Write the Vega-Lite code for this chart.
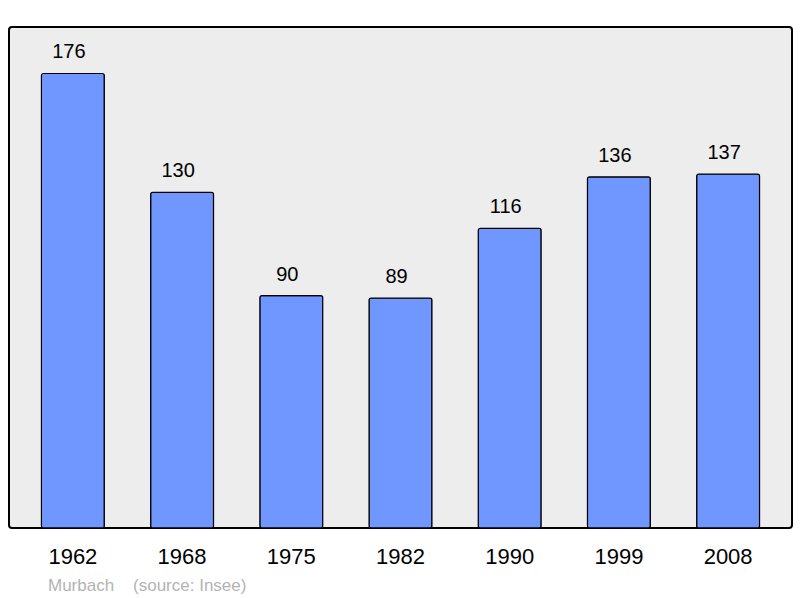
{
  "$schema": "https://vega.github.io/schema/vega-lite/v6.json",
  "width": 783,
  "height": 501,
  "autosize": "none",
  "padding": {"left": 9, "top": 27, "right": 8, "bottom": 70},
  "background": "white",
  "config": {
    "font": "Liberation Sans",
    "view": {"stroke": "#000000", "strokeWidth": 2, "fill": "#ededed", "cornerRadius": 3}
  },
  "title": {
    "text": "Murbach\u00a0\u00a0\u00a0\u00a0(source: Insee)",
    "orient": "bottom",
    "anchor": "start",
    "frame": "group",
    "dx": 39,
    "offset": 11,
    "fontSize": 17,
    "fontWeight": "normal",
    "color": "#b3b3b3",
    "font": "Liberation Sans"
  },
  "data": {
    "values": [
      {"year": "1962", "pop": 176},
      {"year": "1968", "pop": 130},
      {"year": "1975", "pop": 90},
      {"year": "1982", "pop": 89},
      {"year": "1990", "pop": 116},
      {"year": "1999", "pop": 136},
      {"year": "2008", "pop": 137}
    ]
  },
  "encoding": {
    "x": {
      "field": "year",
      "type": "ordinal",
      "sort": null,
      "scale": {"paddingInner": 0.424, "paddingOuter": 0.297},
      "axis": {
        "title": null,
        "ticks": false,
        "domain": false,
        "labelAngle": 0,
        "labelFontSize": 22,
        "labelColor": "#000000",
        "labelPadding": 18,
        "labelFont": "Liberation Sans"
      }
    },
    "y": {
      "field": "pop",
      "type": "quantitative",
      "scale": {"domain": [0, 194], "nice": false},
      "axis": null
    }
  },
  "layer": [
    {
      "mark": {"type": "bar", "fill": "#7096ff", "stroke": "#000000", "strokeWidth": 1.2, "cornerRadius": 2}
    },
    {
      "mark": {"type": "text", "baseline": "alphabetic", "dy": -15, "dx": -4, "fontSize": 20, "color": "#000000", "font": "Liberation Sans"},
      "encoding": {"text": {"field": "pop", "type": "quantitative"}}
    }
  ]
}
